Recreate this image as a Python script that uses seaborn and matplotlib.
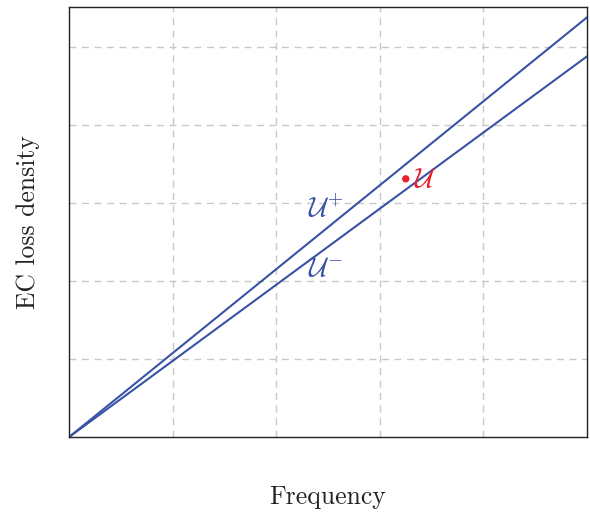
import matplotlib

matplotlib.use("Agg")
import matplotlib.pyplot as plt
import numpy as np
import pandas as pd
import seaborn as sns

# Данные
freq = [0.0, 5.0]
u_plus = [0.0, 5.38]
u_minus = [0.0, 4.88]
point_x = [3.25]
point_y = [3.31]

sns.set_style("white")
plt.rcParams["mathtext.fontset"] = "cm"
plt.rcParams["font.family"] = ["cmr10", "DejaVu Serif"]
plt.rcParams["axes.unicode_minus"] = False

line_color = "#3953a4"
red = "#e8202a"

df = pd.DataFrame(
    {
        "Frequency": freq * 2,
        "density": u_plus + u_minus,
        "bound": ["U+"] * 2 + ["U-"] * 2,
    }
)

fig = plt.figure(figsize=(5.9, 5.13), dpi=100)
ax = fig.add_axes([0.117, 0.148, 0.878, 0.838])

sns.lineplot(
    data=df,
    x="Frequency",
    y="density",
    units="bound",
    estimator=None,
    color=line_color,
    linewidth=1.5,
    ax=ax,
)
sns.scatterplot(x=point_x, y=point_y, color=red, s=28, edgecolor="none", ax=ax, zorder=5)

ax.text(2.31, 2.93, r"$\mathcal{U}^{+}$", color=line_color, fontsize=20, ha="left", va="center")
ax.text(2.31, 2.16, r"$\mathcal{U}^{-}$", color=line_color, fontsize=20, ha="left", va="center")
ax.text(3.33, 3.3, r"$\mathcal{U}$", color=red, fontsize=20, ha="left", va="center")

ax.set_xlim(0, 5)
ax.set_ylim(0, 5.51)
ax.set_xticks(np.arange(1, 5))
ax.set_yticks(np.arange(1, 6))
ax.tick_params(length=0, labelbottom=False, labelleft=False)
ax.grid(True, color="#c8c8c8", linestyle=(0, (5, 4)), linewidth=1)
ax.set_axisbelow(True)
for s in ax.spines.values():
    s.set_color("#222222")
    s.set_linewidth(1)

ax.set_xlabel("Frequency", fontsize=18.5, labelpad=35, color="#222222")
ax.set_ylabel("EC loss density", fontsize=18.5, labelpad=21, color="#222222")

fig.savefig("out.png", dpi=100)
